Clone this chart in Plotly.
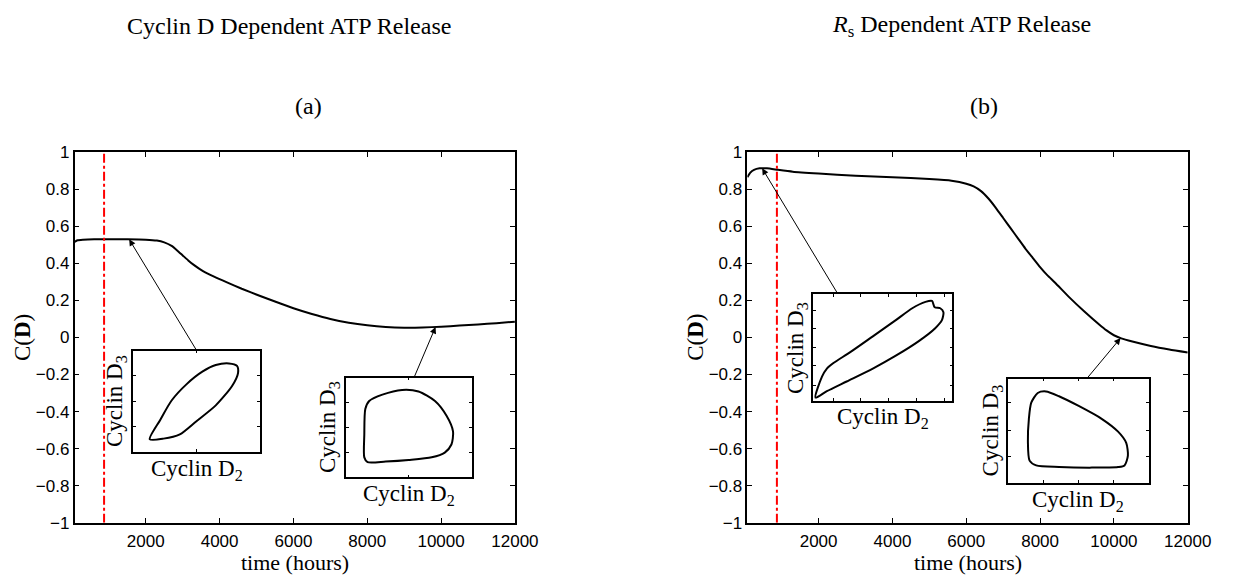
import plotly.graph_objects as go
import numpy as np

W, H = 1250, 585

# ---------------- data ----------------
time_a = [70, 150, 300, 600, 1000, 1500, 2000, 2300, 2500, 2700, 2850, 3000, 3150, 3300, 3550,
          3850, 4200, 4600, 5100, 5500, 6000, 6500, 7000, 7500, 8000, 8500, 9000, 9500, 10000,
          10500, 11000, 11500, 12000]
cd_a = [0.515, 0.525, 0.528, 0.53, 0.53, 0.53, 0.528, 0.523, 0.513, 0.494, 0.47, 0.443, 0.416,
        0.392, 0.358, 0.328, 0.297, 0.263, 0.224, 0.194, 0.158, 0.127, 0.1, 0.08, 0.066, 0.057,
        0.053, 0.054, 0.058, 0.064, 0.07, 0.077, 0.085]

time_b = [70, 150, 250, 400, 600, 900, 1300, 2000, 3000, 4000, 5000, 5600, 6000, 6200, 6400,
          6600, 6800, 7000, 7200, 7400, 7600, 7800, 8000, 8200, 8400, 8800, 9200, 9600, 9800,
          10000, 10200, 10500, 11000, 11500, 12000]
cd_b = [0.865, 0.89, 0.905, 0.913, 0.913, 0.905, 0.895, 0.885, 0.873, 0.865, 0.855, 0.846,
        0.83, 0.815, 0.79, 0.75, 0.70, 0.645, 0.59, 0.535, 0.48, 0.43, 0.38, 0.335, 0.297,
        0.215, 0.14, 0.07, 0.038, 0.012, -0.005, -0.022, -0.046, -0.065, -0.081]

release_time = 870
x_ticks = [2000, 4000, 6000, 8000, 10000, 12000]
x_range = [70, 12000]
y_range = [-1, 1]

# inset phase portraits (normalised Cyclin D2 / Cyclin D3)
a1_d2 = [0.129, 0.238, 0.367, 0.496, 0.651, 0.780, 0.827, 0.819, 0.755, 0.651, 0.548, 0.419,
         0.302, 0.212, 0.129]
a1_d3 = [0.127, 0.133, 0.175, 0.302, 0.460, 0.651, 0.778, 0.848, 0.873, 0.857, 0.794, 0.667,
         0.508, 0.317, 0.127]

a2_d2 = [0.144, 0.144, 0.152, 0.183, 0.288, 0.445, 0.576, 0.707, 0.798, 0.851, 0.838, 0.785,
         0.681, 0.497, 0.314, 0.170, 0.144]
a2_d3 = [0.200, 0.426, 0.684, 0.765, 0.829, 0.877, 0.861, 0.765, 0.619, 0.458, 0.329, 0.248,
         0.200, 0.174, 0.158, 0.152, 0.200]

b1_d2 = [0.017, 0.064, 0.099, 0.146, 0.264, 0.429, 0.594, 0.712, 0.807, 0.854, 0.873, 0.913,
         0.936, 0.925, 0.877, 0.759, 0.594, 0.429, 0.241, 0.099, 0.017]
b1_d3 = [0.030, 0.227, 0.303, 0.355, 0.455, 0.606, 0.758, 0.870, 0.930, 0.939, 0.879, 0.870,
         0.833, 0.758, 0.682, 0.561, 0.424, 0.303, 0.182, 0.091, 0.030]

b2_d2 = [0.152, 0.140, 0.147, 0.164, 0.210, 0.269, 0.362, 0.502, 0.666, 0.783, 0.841, 0.853,
         0.829, 0.783, 0.596, 0.362, 0.199, 0.152]
b2_d3 = [0.215, 0.400, 0.615, 0.769, 0.862, 0.877, 0.831, 0.738, 0.615, 0.492, 0.385, 0.262,
         0.169, 0.154, 0.148, 0.154, 0.169, 0.215]

# times on the curves the arrows point to
arrow_a1_t, arrow_a2_t = 1550, 9850
arrow_b1_t, arrow_b2_t = 470, 10180

# ---------------- layout geometry (pixels) ----------------
main_a = (76, 525, 148, 531)
main_b = (762, 1211, 148, 531)
ins_a1 = (136, 265, 353, 458)
ins_a2 = (353, 481, 381, 484)
ins_b1 = (829, 971, 295, 405)
ins_b2 = (1028, 1171, 382, 490)


def dx(b):
    return [b[0] / W, b[1] / W]


def dy(b):
    return [1 - b[3] / H, 1 - b[2] / H]


SERIF = "Liberation Serif"
SANS = "Liberation Sans"

fig = go.Figure()

# main curves
fig.add_trace(go.Scatter(x=time_a, y=cd_a, mode="lines",
                         line=dict(color="black", width=2, shape="spline", smoothing=0.5),
                         xaxis="x", yaxis="y", showlegend=False))
fig.add_trace(go.Scatter(x=time_b, y=cd_b, mode="lines",
                         line=dict(color="black", width=2, shape="spline", smoothing=0.5),
                         xaxis="x2", yaxis="y2", showlegend=False))
# release time lines
for xa, ya in (("x", "y"), ("x2", "y2")):
    fig.add_trace(go.Scatter(x=[release_time, release_time], y=y_range, mode="lines",
                             line=dict(color="red", width=2, dash="dashdot"),
                             xaxis=xa, yaxis=ya, showlegend=False))

# insets
insets = [(a1_d2, a1_d3, "x3", "y3"), (a2_d2, a2_d3, "x4", "y4"),
          (b1_d2, b1_d3, "x5", "y5"), (b2_d2, b2_d3, "x6", "y6")]
for xs, ys, xa, ya in insets:
    fig.add_trace(go.Scatter(x=xs, y=ys, mode="lines",
                             line=dict(color="black", width=2, shape="spline", smoothing=0.7),
                             xaxis=xa, yaxis=ya, showlegend=False))

main_ax = dict(showline=True, linecolor="black", linewidth=1.5, mirror="allticks",
               ticks="inside", ticklen=5, tickcolor="black", showgrid=False, zeroline=False,
               tickfont=dict(family=SANS, size=17, color="black"))

layout = dict(
    width=W, height=H, margin=dict(l=0, r=0, t=0, b=0),
    paper_bgcolor="white", plot_bgcolor="white", showlegend=False,
    xaxis=dict(domain=dx(main_a), anchor="y", range=x_range, tickvals=x_ticks, tickformat="d",
               ticklabelstandoff=2, **main_ax),
    yaxis=dict(domain=dy(main_a), anchor="x", range=y_range, tick0=-1, dtick=0.2, **main_ax),
    xaxis2=dict(domain=dx(main_b), anchor="y2", range=x_range, tickvals=x_ticks, tickformat="d",
                ticklabelstandoff=2, **main_ax),
    yaxis2=dict(domain=dy(main_b), anchor="x2", range=y_range, tick0=-1, dtick=0.2, **main_ax),
)

inset_ticks = {
    3: ([0.5], [0.25, 0.5, 0.75]),
    4: ([0.5], [0.25, 0.5, 0.75]),
    5: ([0.15, 0.34, 0.54, 0.74, 0.94], [0.14, 0.33, 0.5, 0.68, 0.85]),
    6: ([0.25, 0.5, 0.75], [0.25, 0.5, 0.77]),
}
ins_boxes = {3: ins_a1, 4: ins_a2, 5: ins_b1, 6: ins_b2}
for k, box in ins_boxes.items():
    ia = dict(showline=True, linecolor="black", linewidth=1.5, mirror="allticks", ticks="inside",
              ticklen=3, tickcolor="black", showgrid=False, zeroline=False, showticklabels=False,
              range=[0, 1], fixedrange=True)
    layout[f"xaxis{k}"] = dict(domain=dx(box), anchor=f"y{k}", tickvals=inset_ticks[k][0], **ia)
    layout[f"yaxis{k}"] = dict(domain=dy(box), anchor=f"x{k}", tickvals=inset_ticks[k][1], **ia)

ann = []


def label(text, px, py, size, angle=0):
    ann.append(dict(text=text, x=px / W, y=1 - py / H, xref="paper", yref="paper",
                    xanchor="center", yanchor="middle", textangle=angle, showarrow=False,
                    font=dict(family=SERIF, size=size, color="black")))


# titles
label("Cyclin D Dependent ATP Release", 295, 18, 24)
label("(a)", 315, 100, 24)
label("<i>R</i><sub>s</sub> Dependent ATP Release", 980, 18, 24)
label("(b)", 1003, 100, 24)
# axis labels
for box in (main_a, main_b):
    label("time (hours)", (box[0] + box[1]) / 2, 572, 22)
    label("C(<b>D</b>)", box[0] - 53, (box[2] + box[3]) / 2, 23, -90)
# inset labels
for box in ins_boxes.values():
    label("Cyclin D<sub>2</sub>", (box[0] + box[1]) / 2, box[3] + 18, 23)
    label("Cyclin D<sub>3</sub>", box[0] - 17, (box[2] + box[3]) / 2, 23, -90)


# arrows from insets to curve
def px_to_data(px, py, main):
    t = x_range[0] + (px - main[0]) / (main[1] - main[0]) * (x_range[1] - x_range[0])
    v = y_range[1] - (py - main[2]) / (main[3] - main[2]) * (y_range[1] - y_range[0])
    return t, v


arrows = [(arrow_a1_t, time_a, cd_a, ins_a1, 0.5, main_a, "x", "y"),
          (arrow_a2_t, time_a, cd_a, ins_a2, 0.54, main_a, "x", "y"),
          (arrow_b1_t, time_b, cd_b, ins_b1, 0.18, main_b, "x2", "y2"),
          (arrow_b2_t, time_b, cd_b, ins_b2, 0.56, main_b, "x2", "y2")]
for t, ts, cs, box, frac, main, xa, ya in arrows:
    hy = float(np.interp(t, ts, cs))
    tx, ty = px_to_data(box[0] + frac * (box[1] - box[0]), box[2], main)
    ann.append(dict(text="", x=t, y=hy, xref=xa, yref=ya, ax=tx, ay=ty, axref=xa, ayref=ya,
                    showarrow=True, arrowhead=2, arrowsize=1.3, arrowwidth=1, arrowcolor="black",
                    standoff=0, startstandoff=0))

layout["annotations"] = ann
fig.update_layout(**layout)
fig.write_html("out.html")
